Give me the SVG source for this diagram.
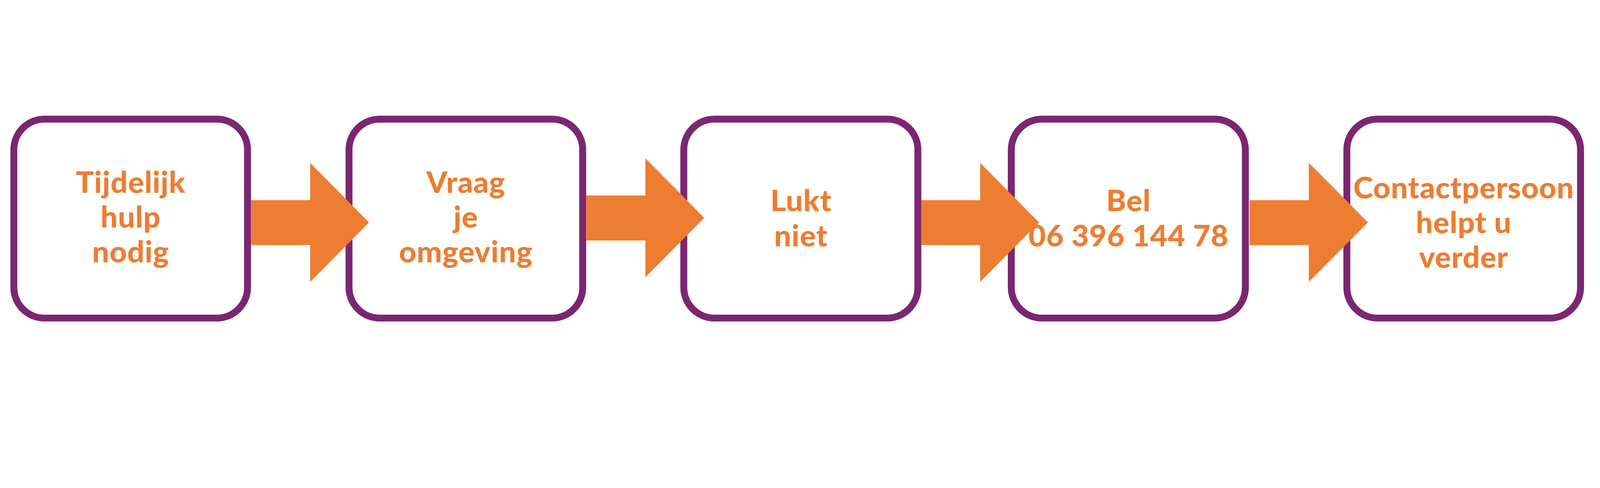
<svg xmlns="http://www.w3.org/2000/svg" width="4167" height="1250" viewBox="0 0 4167 1250">
<style>
.box{fill:#fff;stroke:#7B2671;stroke-width:18}
.arr{fill:#ED7D31}
text{font-family:Lato,"Liberation Sans",sans-serif;font-weight:900;font-size:78px;letter-spacing:1px;fill:#ED7D31;text-anchor:middle}
</style>
<rect width="4167" height="1250" fill="#fff"/>
<g transform="scale(0.984)">
<g id="node1"><rect class="box" x="36" y="310" width="608" height="518" rx="80"/>
<text x="340" y="502">Tijdelijk</text><text x="340" y="592">hulp</text><text x="340" y="683">nodig</text></g>
<g id="node2"><rect class="box" x="908" y="310" width="608" height="518" rx="80"/>
<text x="1212" y="502">Vraag</text><text x="1212" y="592">je</text><text x="1212" y="683">omgeving</text></g>
<g id="node3"><rect class="box" x="1779" y="310" width="609" height="518" rx="80"/>
<text x="2084" y="550">Lukt</text><text x="2084" y="641">niet</text></g>
<g id="node4"><rect class="box" x="2631" y="310" width="609" height="518" rx="80"/>
<text x="2936" y="550">Bel</text><text x="2936" y="641">06 396 144 78</text></g>
<g id="node5"><rect class="box" x="3504" y="310" width="608" height="518" rx="80"/>
<text x="3808" y="516">Contactpersoon</text><text x="3808" y="607">helpt u</text><text x="3808" y="697">verder</text></g>
<g id="connectors">
<polygon class="arr" points="653,521 807,521 807,424 960,579 807,734 807,638 653,638"/>
<polygon class="arr" points="1525,509 1679,509 1679,412 1832,567 1679,722 1679,626 1525,626"/>
<polygon class="arr" points="2397,521 2550,521 2550,424 2703,579 2550,734 2550,638 2397,638"/>
<polygon class="arr" points="3251,521 3405,521 3405,424 3559,579 3405,734 3405,638 3251,638"/>
</g>
</g>
</svg>
